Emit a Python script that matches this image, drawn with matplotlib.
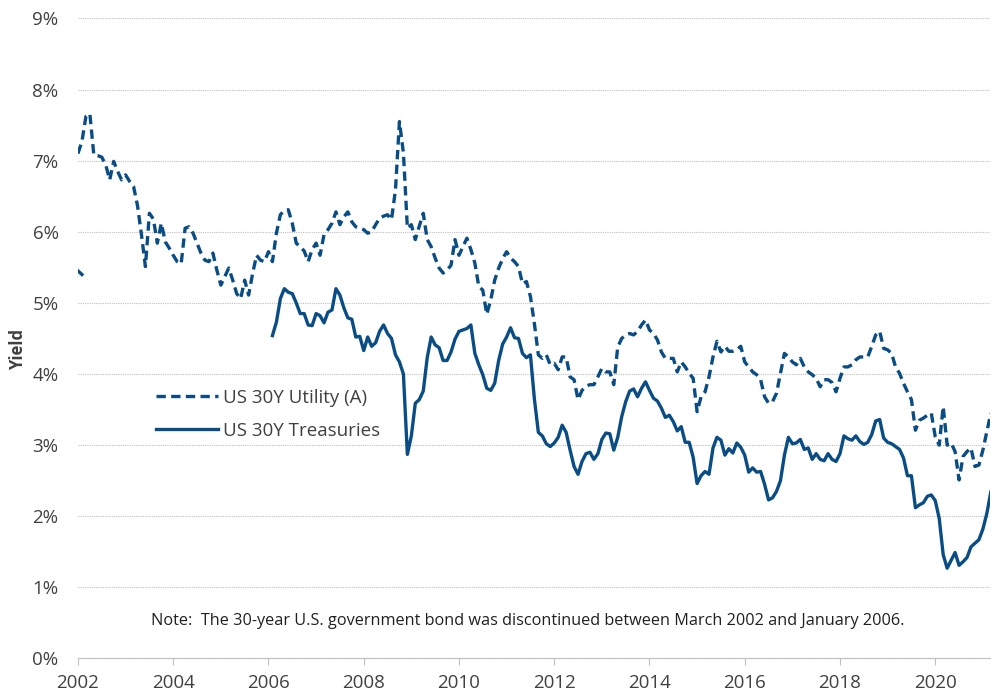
import numpy as np
import matplotlib.pyplot as plt

# monthly yields, Jan 2002 .. Mar 2021 (%)
utility = [
    7.10, 7.27, 7.62, 7.66, 7.08, 7.07, 7.05, 6.94, 6.73, 6.99, 6.85, 6.73,  # 2002
    6.80, 6.71, 6.64, 6.37, 5.96, 5.51, 6.26, 6.18, 5.84, 6.12, 5.86, 5.77,  # 2003
    5.67, 5.58, 5.55, 6.05, 6.07, 5.98, 5.84, 5.70, 5.60, 5.58, 5.70, 5.46,  # 2004
    5.25, 5.37, 5.49, 5.32, 5.13, 5.06, 5.32, 5.11, 5.41, 5.67, 5.60, 5.58,  # 2005
    5.72, 5.58, 5.98, 6.24, 6.30, 6.31, 6.12, 5.84, 5.79, 5.73, 5.58, 5.75,  # 2006
    5.84, 5.67, 5.96, 6.03, 6.12, 6.28, 6.10, 6.21, 6.28, 6.14, 6.07, 6.05,  # 2007
    6.03, 5.98, 6.00, 6.10, 6.19, 6.22, 6.24, 6.17, 6.59, 7.55, 7.11, 6.05,  # 2008
    6.10, 5.89, 6.08, 6.26, 5.89, 5.79, 5.63, 5.49, 5.42, 5.46, 5.53, 5.89,  # 2009
    5.67, 5.79, 5.91, 5.75, 5.56, 5.23, 5.18, 4.84, 5.04, 5.32, 5.49, 5.62,  # 2010
    5.72, 5.63, 5.58, 5.51, 5.27, 5.30, 5.09, 4.71, 4.27, 4.22, 4.27, 4.13,  # 2011
    4.15, 4.06, 4.24, 4.24, 3.96, 3.92, 3.64, 3.77, 3.83, 3.85, 3.85, 3.96,  # 2012
    4.08, 4.03, 4.03, 3.85, 4.38, 4.50, 4.55, 4.57, 4.55, 4.60, 4.69, 4.76,  # 2013
    4.62, 4.57, 4.48, 4.31, 4.22, 4.22, 4.22, 4.03, 4.17, 4.10, 4.01, 3.94,  # 2014
    3.47, 3.68, 3.75, 3.96, 4.24, 4.46, 4.31, 4.39, 4.32, 4.32, 4.34, 4.39,  # 2015
    4.17, 4.10, 4.03, 3.99, 3.92, 3.68, 3.59, 3.61, 3.73, 4.01, 4.29, 4.24,  # 2016
    4.17, 4.13, 4.22, 4.10, 4.03, 3.99, 3.94, 3.82, 3.92, 3.92, 3.88, 3.75,  # 2017
    3.94, 4.10, 4.10, 4.13, 4.20, 4.24, 4.24, 4.24, 4.39, 4.55, 4.60, 4.36,  # 2018
    4.34, 4.29, 4.10, 4.01, 3.87, 3.75, 3.64, 3.21, 3.35, 3.38, 3.42, 3.45,  # 2019
    3.12, 3.00, 3.54, 3.00, 3.03, 2.91, 2.51, 2.84, 2.91, 2.96, 2.70, 2.72,  # 2020
    2.93, 3.19, 3.45,                                                        # 2021
]

nan = np.nan
treasury = [
    5.45, 5.40] + [nan] * 47 + [
    4.54, 4.73, 5.06, 5.20, 5.15, 5.13, 5.00, 4.85, 4.85, 4.69, 4.68,        # 2006 (Feb-)
    4.85, 4.82, 4.72, 4.87, 4.90, 5.20, 5.11, 4.93, 4.79, 4.77, 4.52, 4.53,  # 2007
    4.33, 4.52, 4.39, 4.44, 4.60, 4.69, 4.57, 4.50, 4.27, 4.17, 4.00, 2.87,  # 2008
    3.13, 3.59, 3.64, 3.76, 4.23, 4.52, 4.41, 4.37, 4.19, 4.19, 4.31, 4.49,  # 2009
    4.60, 4.62, 4.64, 4.69, 4.29, 4.13, 3.99, 3.80, 3.77, 3.87, 4.19, 4.42,  # 2010
    4.52, 4.65, 4.51, 4.50, 4.29, 4.23, 4.27, 3.65, 3.18, 3.13, 3.02, 2.98,  # 2011
    3.03, 3.11, 3.28, 3.18, 2.93, 2.70, 2.59, 2.77, 2.88, 2.90, 2.80, 2.88,  # 2012
    3.08, 3.17, 3.16, 2.93, 3.11, 3.40, 3.61, 3.76, 3.79, 3.68, 3.80, 3.89,  # 2013
    3.77, 3.66, 3.62, 3.52, 3.39, 3.42, 3.33, 3.20, 3.26, 3.04, 3.04, 2.83,  # 2014
    2.46, 2.57, 2.63, 2.59, 2.96, 3.11, 3.07, 2.86, 2.95, 2.89, 3.03, 2.97,  # 2015
    2.86, 2.62, 2.68, 2.62, 2.63, 2.45, 2.23, 2.26, 2.35, 2.50, 2.86, 3.11,  # 2016
    3.02, 3.03, 3.08, 2.94, 2.96, 2.80, 2.88, 2.80, 2.78, 2.88, 2.80, 2.77,  # 2017
    2.88, 3.13, 3.09, 3.07, 3.13, 3.05, 3.01, 3.04, 3.15, 3.34, 3.36, 3.10,  # 2018
    3.04, 3.02, 2.98, 2.94, 2.82, 2.57, 2.57, 2.12, 2.16, 2.19, 2.28, 2.30,  # 2019
    2.22, 1.97, 1.46, 1.27, 1.38, 1.49, 1.31, 1.36, 1.42, 1.57, 1.62, 1.67,  # 2020
    1.82, 2.04, 2.34,                                                        # 2021
]

years = [2002, 2004, 2006, 2008, 2010, 2012, 2014, 2016, 2018, 2020]
note = "Note:  The 30-year U.S. government bond was discontinued between March 2002 and January 2006."

t = 2002 + np.arange(len(utility)) / 12
blue = '#0A4D85'
grey = '#404040'

fig = plt.figure(figsize=(9.93, 6.98), dpi=100)
ax = fig.add_axes([0.0785, 0.0566, 0.9185, 0.917])

ax.plot(t, utility, color=blue, lw=2.4, ls=(0, (2.8, 1.6)), label='US 30Y Utility (A)')
ax.plot(t, treasury, color=blue, lw=2.4, label='US 30Y Treasuries')

ax.set_xlim(2002, 2021.15)
ax.set_ylim(0, 9)
ax.set_yticks(range(10))
ax.set_yticklabels([f'{i}%' for i in range(10)])
ax.set_xticks(years)
ax.set_xticklabels([str(y) for y in years])

ax.grid(axis='y', color='#BFBFBF', lw=0.8, ls=(0, (1, 1)))
for s in ['top', 'right', 'left']:
    ax.spines[s].set_visible(False)
ax.spines['bottom'].set_color('#BFBFBF')
ax.spines['bottom'].set_linestyle((0, (1, 1)))
ax.spines['bottom'].set_linewidth(0.8)
ax.tick_params(axis='y', length=0, pad=14, labelsize=13.5, labelcolor=grey)
ax.tick_params(axis='x', length=5, width=0.8, color='#BFBFBF', pad=6, labelsize=13.5, labelcolor=grey)
for lab in ax.get_xticklabels() + ax.get_yticklabels():
    lab.set_family('Open Sans')

ax.set_ylabel('Yield', fontsize=12, fontweight='bold', color=grey, family='Open Sans')
ax.yaxis.set_label_coords(-0.056, 0.482)

leg = ax.legend(loc='upper left', bbox_to_anchor=(0.086, 0.421), frameon=False,
                handlelength=3.3, handletextpad=0.25, labelspacing=0.78,
                borderpad=0, borderaxespad=0,
                prop={'family': 'Open Sans', 'size': 13.5})
for txt in leg.get_texts():
    txt.set_color(grey)

fig.text(0.531, 0.111, note, ha='center', va='center', fontsize=11.7,
         color='#202020', family='Open Sans')

fig.savefig('out.png', dpi=100)
